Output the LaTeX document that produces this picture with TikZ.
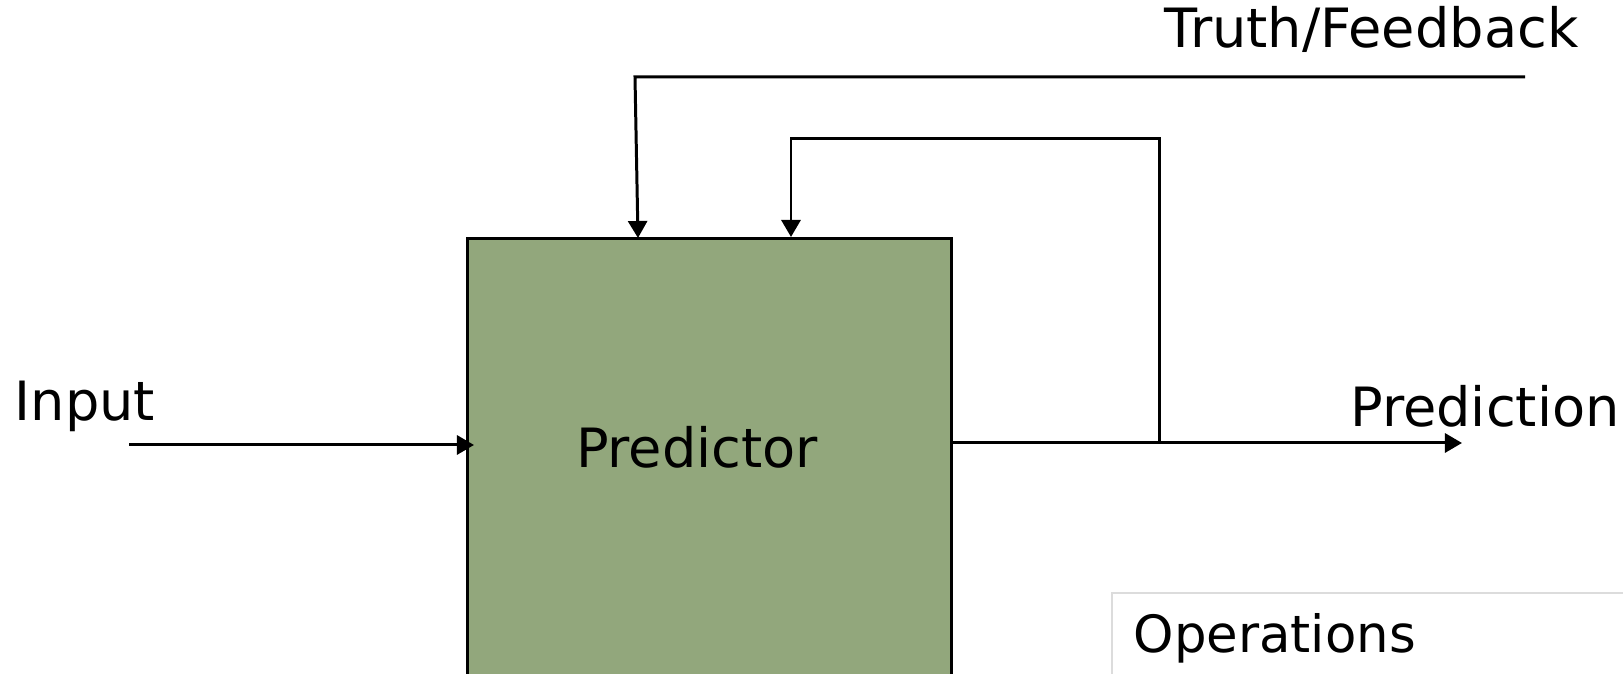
\documentclass[tikz,border=0pt]{standalone}
\usepackage{fontspec}
\setmainfont{DejaVu Sans}
\usetikzlibrary{arrows.meta}
\definecolor{predgreen}{RGB}{146,167,124}
\definecolor{opsgray}{RGB}{220,220,220}
\tikzset{
	flow/.style = {line width = 0.85pt, -{Triangle[length = 0.17cm, width = 0.19cm]}},
	lbl/.style = {inner sep = 0pt, font = \fontsize{15.4}{18}\selectfont},
	predbox/.style = {draw, line width = 0.85pt, fill = predgreen, inner sep = 0pt, anchor = north west, minimum width = 4.84cm, minimum height = 6cm}
}
\begin{document}
\begin{tikzpicture}[x = 0.01cm, y = -0.01cm]
		\useasboundingbox (0, 0) rectangle (1623, 674);
		\clip (0, 0) rectangle (1623, 674);
		%%%%%%%%%%%%%
		\node[predbox] (pred) at (466, 237) {};
		\node[lbl] (predtxt) at (697, 447) {Predictor};
		\node[lbl] (input) at (85, 406) {Input};
		\node[lbl] (prediction) at (1485, 406) {Prediction};
		\node[lbl, anchor = base east] (truth) at (1579, 48) {Truth/Feedback};
		%%%%%%%%%%%%%
		\coordinate (inS) at (129, 445);
		\coordinate (inE) at (474, 445);
		\coordinate (outE) at (1462, 443);
		\coordinate (fb) at (1159, 443);
		\coordinate (tS) at (1525, 77);
		\coordinate (tC) at (635, 77);
		%%%%%%%%%%%%%
		\draw [flow] (inS) to (inE);
		\draw [flow] (pred.east |- outE) to (outE);
		\draw [flow] (fb) |- (791, 139) to (791, 237);
		\draw [flow] (tS) to (tC) to (638, 238);
		%%%%%%%%%%%%%
		\draw [opsgray, line width = 0.6pt] (1112, 800) |- (1700, 593);
		\node[inner sep = 0pt, anchor = base west, font = \fontsize{14.6}{17}\selectfont] (ops) at (1133, 653) {Operations};
\end{tikzpicture}
\end{document}
